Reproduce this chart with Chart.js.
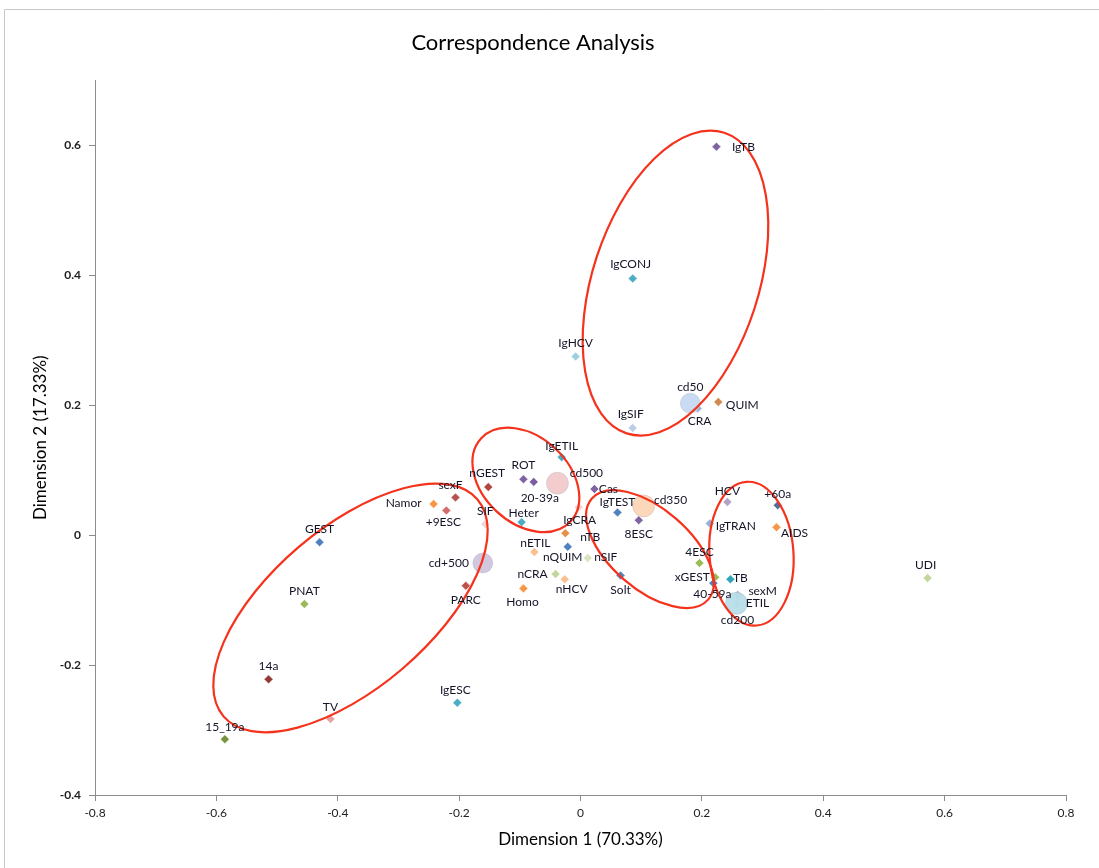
<!DOCTYPE html>
<html>
<head>
<meta charset="utf-8">
<title>Correspondence Analysis</title>
<script src="https://cdn.jsdelivr.net/npm/chart.js@4.4.1/dist/chart.umd.min.js"></script>
<style>
  body { margin: 0; background: #fff; }
  canvas { display: block; }
</style>
</head>
<body>
<canvas id="chart" width="1099" height="868"></canvas>
<script>
// Data: category points (diamonds)
const pointNames = ["IgTB", "IgCONJ", "IgHCV", "CRA", "QUIM", "IgSIF", "IgETIL", "ROT", "20-39a", "nGEST",
    "sexF", "Namor", "+9ESC", "SIF", "Heter", "Cas", "IgTEST", "8ESC", "IgCRA", "nTB",
    "nQUIM", "nETIL", "nSIF", "nCRA", "nHCV", "Homo", "Solt", "HCV", "+60a", "IgTRAN",
    "AIDS", "4ESC", "xGEST", "40-59a", "TB", "sexM", "ETIL", "UDI", "GEST", "PNAT",
    "PARC", "14a", "TV", "15_19a", "IgESC"];
const dim1 = [0.224, 0.086, -0.008, 0.193, 0.227, 0.086, -0.031, -0.094, -0.077, -0.152,
    -0.206, -0.242, -0.221, -0.157, -0.097, 0.023, 0.061, 0.096, -0.003, -0.025,
    -0.021, -0.076, 0.012, -0.041, -0.026, -0.094, 0.066, 0.242, 0.325, 0.213,
    0.323, 0.196, 0.222, 0.219, 0.247, 0.259, 0.257, 0.572, -0.430, -0.455,
    -0.189, -0.514, -0.412, -0.586, -0.203];
const dim2 = [0.598, 0.395, 0.275, 0.195, 0.205, 0.165, 0.120, 0.086, 0.082, 0.074,
    0.058, 0.048, 0.038, 0.017, 0.020, 0.071, 0.035, 0.023, 0.043, 0.003,
    -0.018, -0.026, -0.035, -0.060, -0.068, -0.082, -0.062, 0.051, 0.046, 0.018,
    0.012, -0.043, -0.065, -0.074, -0.068, -0.092, -0.105, -0.066, -0.011, -0.106,
    -0.078, -0.222, -0.283, -0.314, -0.258];

// Data: cd points (bubbles)
const cdNames = ["cd50", "cd500", "cd350", "cd+500", "cd200"];
const cdDim1 = [0.181, -0.038, 0.104, -0.161, 0.257];
const cdDim2 = [0.203, 0.080, 0.045, -0.043, -0.105];

// Tick labels
const xTicks = [-0.8, -0.6, -0.4, -0.2, 0, 0.2, 0.4, 0.6, 0.8];
const yTicks = [-0.4, -0.2, 0, 0.2, 0.4, 0.6];

// Styles
const pointColors = ["#8064A2", "#4BACC6", "#9DD0DE", "#95B3D7", "#D08A4E", "#B9CDE5", "#4BACC6", "#8064A2", "#7B5C9E", "#B0463F",
    "#B65150", "#F79646", "#D46B6B", "#F2D4D3", "#4BACC6", "#8064A2", "#4F81BD", "#8064A2", "#F2D4D3", "#E6914A",
    "#4F81BD", "#FAC090", "#D7E4BD", "#C3D69B", "#FAC090", "#F79646", "#4F81BD", "#B3A2C7", "#4F6E9B", "#95B3D7",
    "#F79646", "#9BBB59", "#9BBB59", "#4F81BD", "#31A5BC", "#B3A2C7", "#93CDDD", "#C3D69B", "#4F81BD", "#9BBB59",
    "#C0504D", "#953735", "#E6A3A2", "#77933C", "#4BACC6"];
const pointLabelOffsets = [[27, 0], [-2, -14], [0, -13], [2, 13], [24, 3], [-2, -14], [0, -11], [0, -14], [6, 16], [-1, -14],
    [-5, -12], [-30, -1], [-3, 12], [0, -13], [2, -9], [14, 0], [0, -10], [0, 14], [1, 13], [25, 4],
    [-5, 10], [1, -9], [18, -1], [-23, 0], [7, 10], [-1, 14], [0, 15], [0, -11], [0, -11], [26, 3],
    [18, 6], [0, -11], [-23, 0], [-1, 11], [10, -1], [25, -4], [21, 0], [-2, -13], [0, -13], [0, -13],
    [0, 14], [0, -13], [0, -12], [0, -12], [-2, -13]];
const cdColors = ["rgba(198,217,241,0.95)", "rgba(242,200,200,0.9)", "rgba(252,213,181,0.95)", "rgba(204,193,218,0.9)", "rgba(183,222,232,0.95)"];
const cdRadius = [10, 11, 11, 10, 11];
const cdLabelOffsets = [[0, -16], [29, -10], [27, -6], [-34, 0], [1, 17]];

// Group ellipses: centre in data units, radii in px, rotation in degrees
const groupEllipses = [
    {x: 0.1565, y: 0.388, rx: 83, ry: 158, rot: 18},
    {x: -0.090, y: 0.085, rx: 61, ry: 43, rot: 43},
    {x: -0.379, y: -0.112, rx: 167, ry: 80, rot: -40.5},
    {x: 0.1145, y: -0.0215, rx: 77, ry: 40, rot: 41},
    {x: 0.2817, y: -0.0285, rx: 42, ry: 72, rot: -4}
];

const FONT = "Lato, 'Open Sans', sans-serif";

// Plugins
const frame = {
    id: "frame",
    beforeDraw(chart) {
        let ctx = chart.ctx;
        ctx.save();
        ctx.fillStyle = "#fff";
        ctx.fillRect(0, 0, chart.width, chart.height);
        ctx.strokeStyle = "#c8c8c8";
        ctx.lineWidth = 1;
        ctx.beginPath();
        ctx.moveTo(4.5, chart.height);
        ctx.lineTo(4.5, 9.5);
        ctx.lineTo(chart.width, 9.5);
        ctx.stroke();
        ctx.restore();
    }
};

const pointLabels = {
    id: "pointLabels",
    afterDatasetsDraw(chart) {
        let ctx = chart.ctx;
        ctx.save();
        ctx.font = "12px " + FONT;
        ctx.fillStyle = "#141428";
        ctx.textAlign = "center";
        ctx.textBaseline = "middle";
        chart.data.datasets.forEach((ds, di) => {
            let meta = chart.getDatasetMeta(di);
            meta.data.forEach((el, i) => {
                let off = ds.labelOffsets[i];
                ctx.fillText(ds.names[i], el.x + off[0], el.y + off[1]);
            });
        });
        ctx.restore();
    }
};

const ellipses = {
    id: "ellipses",
    afterDatasetsDraw(chart) {
        let ctx = chart.ctx;
        let xs = chart.scales.x;
        let ys = chart.scales.y;
        ctx.save();
        ctx.strokeStyle = "#f5321c";
        ctx.lineWidth = 2.2;
        groupEllipses.forEach(e => {
            ctx.beginPath();
            ctx.ellipse(xs.getPixelForValue(e.x), ys.getPixelForValue(e.y), e.rx, e.ry, e.rot * Math.PI / 180, 0, Math.PI * 2);
            ctx.stroke();
        });
        ctx.restore();
    }
};

new Chart(document.getElementById("chart"), {
    type: "scatter",
    data: {
        datasets: [
            {
                label: "cd",
                order: 0,
                names: cdNames,
                labelOffsets: cdLabelOffsets,
                data: cdDim1.map((v, i) => ({x: v, y: cdDim2[i]})),
                pointStyle: "circle",
                pointRadius: cdRadius,
                backgroundColor: cdColors,
                borderColor: "rgba(170,170,190,0.35)",
                borderWidth: 1
            },
            {
                label: "categories",
                order: 1,
                names: pointNames,
                labelOffsets: pointLabelOffsets,
                data: dim1.map((v, i) => ({x: v, y: dim2[i]})),
                pointStyle: "rectRot",
                pointRadius: 4.5,
                backgroundColor: pointColors,
                borderColor: "rgba(255,255,255,0.6)",
                borderWidth: 1
            }
        ]
    },
    options: {
        responsive: false,
        animation: false,
        events: [],
        layout: {padding: {left: 0, right: 33, top: 0, bottom: 0}},
        plugins: {
            legend: {display: false},
            tooltip: {enabled: false},
            title: {
                display: true,
                text: "Correspondence Analysis",
                color: "#000",
                font: {family: FONT, size: 22, weight: "normal"},
                padding: {top: 30, bottom: 24}
            }
        },
        scales: {
            x: {
                type: "linear",
                min: -0.8,
                max: 0.8,
                afterBuildTicks: s => { s.ticks = xTicks.map(v => ({value: v})); },
                afterFit: s => { s.height = 73; },
                grid: {drawOnChartArea: false, drawTicks: true, tickLength: 6, color: "#8c8c8c"},
                border: {color: "#8c8c8c"},
                ticks: {color: "#222", font: {family: FONT, size: 12}, padding: 5, maxRotation: 0},
                title: {
                    display: true,
                    text: "Dimension 1 (70.33%)",
                    color: "#000",
                    font: {family: FONT, size: 17},
                    padding: {top: 0, bottom: 18}
                }
            },
            y: {
                type: "linear",
                min: -0.4,
                max: 0.7,
                afterBuildTicks: s => { s.ticks = yTicks.map(v => ({value: v})); },
                afterFit: s => { s.width = 95; },
                grid: {drawOnChartArea: false, drawTicks: true, tickLength: 6, color: "#8c8c8c"},
                border: {color: "#8c8c8c"},
                ticks: {color: "#222", font: {family: FONT, size: 12, weight: "bold"}, padding: 8},
                title: {
                    display: true,
                    text: "Dimension 2 (17.33%)",
                    color: "#000",
                    font: {family: FONT, size: 17},
                    padding: {top: 30, bottom: 0}
                }
            }
        }
    },
    plugins: [frame, ellipses, pointLabels]
});
</script>
</body>
</html>
